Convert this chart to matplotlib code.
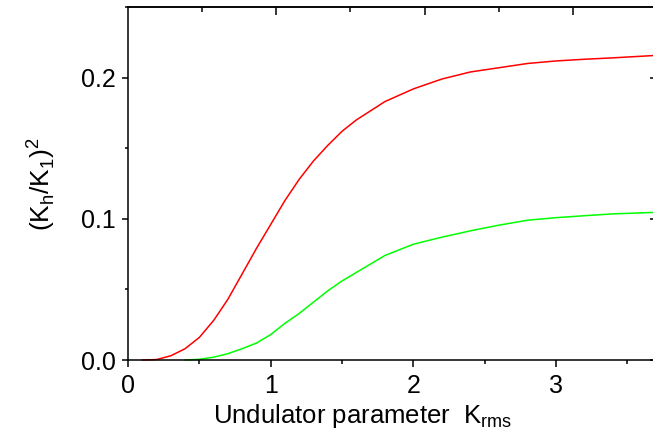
import matplotlib
matplotlib.use("Agg")
import matplotlib.pyplot as plt
from matplotlib.ticker import MultipleLocator, FixedLocator, NullFormatter

plt.rcParams['font.family'] = ['Liberation Sans', 'DejaVu Sans']
plt.rcParams['mathtext.fontset'] = 'custom'
plt.rcParams['mathtext.rm'] = 'Liberation Sans'

# Data
red_x = [0.1, 0.2, 0.3, 0.4, 0.5, 0.6, 0.7, 0.8, 0.9, 1.0, 1.1, 1.2, 1.3, 1.4, 1.5,
         1.6, 1.8, 2.0, 2.2, 2.4, 2.6, 2.8, 3.0, 3.2, 3.4, 3.68]
red_y = [0.0, 0.0003, 0.003, 0.008, 0.016, 0.028, 0.043, 0.061, 0.079, 0.096, 0.113,
         0.128, 0.141, 0.152, 0.162, 0.170, 0.183, 0.192, 0.199, 0.204, 0.207, 0.210,
         0.2118, 0.213, 0.214, 0.2156]

green_x = [0.4, 0.5, 0.6, 0.7, 0.8, 0.9, 1.0, 1.1, 1.2, 1.3, 1.4, 1.5, 1.6, 1.8, 2.0,
           2.2, 2.4, 2.6, 2.8, 3.0, 3.2, 3.4, 3.68]
green_y = [0.0, 0.0005, 0.002, 0.0045, 0.008, 0.012, 0.018, 0.026, 0.033, 0.041, 0.049,
           0.056, 0.062, 0.074, 0.082, 0.087, 0.0915, 0.0955, 0.099, 0.1008, 0.1022,
           0.1035, 0.1045]

x_ticks = [0, 1, 2, 3]
y_ticks = [0.0, 0.1, 0.2]
y_tick_labels = ['0.0', '0.1', '0.2']

fig = plt.figure(figsize=(6.53, 4.37), dpi=100)
ax = fig.add_axes([128/653, 1 - 360/437, (656 - 128)/653, (360 - 7)/437])

ax.plot(red_x, red_y, color='#ff0000', lw=1.1, clip_on=False)
ax.plot(green_x, green_y, color='#00ff00', lw=1.1, clip_on=False)

ax.set_xlim(0, 3.7)
ax.set_ylim(0, 0.25)

ax.set_xticks(x_ticks)
ax.set_xticklabels([str(t) for t in x_ticks])
ax.xaxis.set_minor_locator(MultipleLocator(0.5))
ax.set_yticks(y_ticks)
ax.set_yticklabels(y_tick_labels)
ax.yaxis.set_minor_locator(FixedLocator([0.05, 0.15, 0.25]))

for s in ax.spines.values():
    s.set_linewidth(1.1)

ax.tick_params(axis='x', which='major', direction='out', length=5, width=1.1,
               labelsize=18, pad=5, top=False)
ax.tick_params(axis='x', which='minor', direction='out', length=3, width=1.1, top=False)
ax.tick_params(axis='y', which='major', direction='out', length=4, width=1.1,
               labelsize=18, pad=5, right=False)
ax.tick_params(axis='y', which='minor', direction='out', length=2.2, width=1.1, right=False)

# right-side inward ticks
k = 142.7 / 148.3
secy = ax.secondary_yaxis('right')
secy.set_yticks(y_ticks)
secy.yaxis.set_major_formatter(NullFormatter())
secy.tick_params(direction='in', length=4, width=1.1)
secy.spines['right'].set_linewidth(1.1)

# top axis with its own (slightly different) scale, inward ticks
secx = ax.secondary_xaxis('top', functions=(lambda x: x * k, lambda x: x / k))
secx.set_xticks([1, 2, 3])
secx.xaxis.set_minor_locator(FixedLocator([0.5, 1.5, 2.5]))
secx.xaxis.set_major_formatter(NullFormatter())
secx.tick_params(which='major', direction='in', length=6, width=1.1)
secx.tick_params(which='minor', direction='in', length=3.5, width=1.1)
secx.spines['top'].set_linewidth(1.1)

ax.set_xlabel(r'Undulator parameter  K$_\mathregular{rms}$', fontsize=18.5)
ax.xaxis.set_label_coords(0.445, -0.12)
ax.set_ylabel(r'(K$_\mathregular{h}$/K$_\mathregular{1}$)$^\mathregular{2}$', fontsize=19)
ax.yaxis.set_label_coords(-0.134, 0.5)

fig.savefig('out.png', dpi=100)
